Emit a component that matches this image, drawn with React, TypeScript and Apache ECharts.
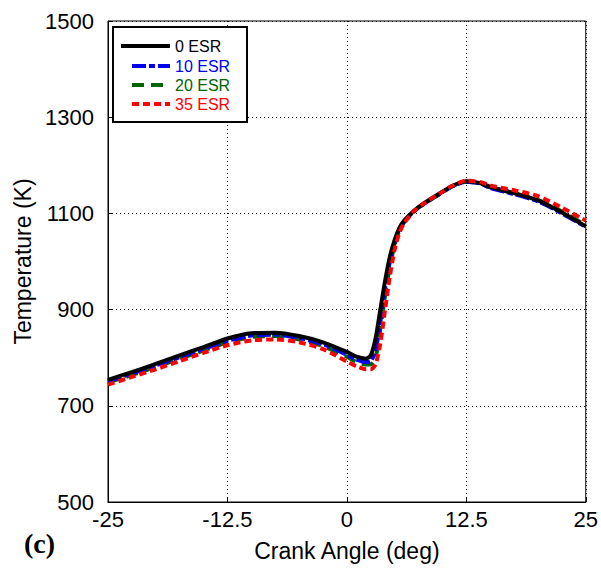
import React, { useEffect, useRef } from "react";
import * as echarts from "echarts";

const crankAngle = [-25, -22.5, -20, -17.5, -15, -12.5, -10, -7.5, -5, -2.5, 0, 1, 2, 2.5, 3, 3.5, 4, 4.5, 5, 5.5, 6, 7, 8, 10, 11, 12.5, 14, 15, 17.5, 20, 22.5, 25];
const esr0 = [754, 770, 787, 805, 822, 840, 851, 852, 845, 832, 812, 802, 798, 805, 840, 900, 960, 1010, 1045, 1070, 1085, 1105, 1120, 1145, 1157, 1167, 1163, 1155, 1142, 1127, 1102, 1073];
const esr10 = [751, 767, 784, 801, 818, 835, 846, 848, 841, 828, 806, 796, 791, 793, 815, 875, 945, 1000, 1040, 1068, 1083, 1104, 1119, 1144, 1156, 1166, 1162, 1153, 1140, 1125, 1100, 1072];
const esr20 = [749, 764, 781, 798, 815, 832, 843, 845, 838, 824, 802, 791, 786, 786, 800, 860, 930, 990, 1035, 1065, 1082, 1104, 1119, 1144, 1156, 1166, 1162, 1154, 1142, 1128, 1104, 1075];
const esr35 = [744, 760, 776, 793, 810, 826, 836, 838, 832, 818, 792, 782, 776, 776, 786, 830, 900, 970, 1025, 1060, 1080, 1104, 1120, 1145, 1157, 1168, 1165, 1158, 1148, 1136, 1112, 1085];
const seriesNames = ["0 ESR", "10 ESR", "20 ESR", "35 ESR"];
const yTicks = [500, 700, 900, 1100, 1300, 1500];
const xTicks = [-25, -12.5, 0, 12.5, 25];

const colors = ["#000000", "#0000ee", "#006400", "#ff0000"];
const dashes: (number[] | null)[] = [null, [14, 3, 6, 3], [12, 7], [7, 4]];
const widths = [4, 4, 4, 4];

export default function App() {
  const ref = useRef<HTMLDivElement>(null);
  useEffect(() => {
    if (!ref.current) return;
    const chart = echarts.init(ref.current, undefined, { renderer: "svg" });
    const font = "'Liberation Sans', Arial, sans-serif";
    const allData = [esr0, esr10, esr20, esr35];
    const series = allData.map((vals, i) => ({
      name: seriesNames[i],
      type: "line",
      data: crankAngle.map((x, j) => [x, vals[j]]),
      showSymbol: false,
      smooth: 0.25,
      z: i === 3 ? 14 : 10 - i,
      lineStyle: {
        color: colors[i],
        width: widths[i],
        type: dashes[i] ? dashes[i] : "solid",
      },
    }));

    const legendX0 = 113;
    const legendY0 = 27;
    const rowY = [46, 66, 85, 104];
    const graphicEls: any[] = [
      {
        type: "rect",
        shape: { x: legendX0, y: legendY0, width: 134, height: 95 },
        style: { fill: "#fff", stroke: "#000", lineWidth: 2 },
        z: 100,
      },
    ];
    rowY.forEach((y, i) => {
      graphicEls.push({
        type: "line",
        shape: { x1: i === 0 ? 121 : 132, y1: y, x2: 170, y2: y },
        style: {
          stroke: colors[i],
          lineWidth: 4,
          lineDash: dashes[i] ? dashes[i] : null,
        },
        z: 101,
      });
      graphicEls.push({
        type: "text",
        x: 175,
        y: y,
        style: {
          text: seriesNames[i],
          fill: colors[i],
          font: `16px ${font}`,
          verticalAlign: "middle",
          align: "left",
        },
        z: 101,
      });
    });
    graphicEls.push({
      type: "text",
      x: 24,
      y: 543,
      style: {
        text: "(c)",
        fill: "#000",
        font: `bold 28px 'Liberation Serif', 'Times New Roman', serif`,
        verticalAlign: "middle",
        align: "left",
      },
    });

    chart.setOption({
      animation: false,
      grid: {
        left: 108,
        right: 13,
        top: 21,
        bottom: 72,
        show: true,
        borderColor: "#000",
        borderWidth: 1,
      },
      xAxis: {
        type: "value",
        min: -25,
        max: 25,
        interval: 12.5,
        name: "Crank Angle (deg)",
        nameLocation: "middle",
        nameGap: 37,
        nameTextStyle: { fontFamily: font, fontSize: 23, color: "#000" },
        axisLine: { show: true, onZero: false, lineStyle: { color: "#000" } },
        axisTick: { show: true, inside: true, length: 5, lineStyle: { color: "#000" } },
        axisLabel: {
          fontFamily: font,
          fontSize: 22,
          color: "#000",
          margin: 6,
          formatter: (v: number) => (xTicks.includes(v) ? String(v) : ""),
        },
        splitLine: { show: true, lineStyle: { color: "#000", type: [1, 3], width: 1 } },
      },
      yAxis: {
        type: "value",
        min: 500,
        max: 1500,
        interval: 200,
        name: "Temperature (K)",
        nameLocation: "middle",
        nameGap: 72,
        nameTextStyle: { fontFamily: font, fontSize: 23, color: "#000" },
        axisLine: { show: true, onZero: false, lineStyle: { color: "#000" } },
        axisTick: { show: true, inside: true, length: 5, lineStyle: { color: "#000" } },
        axisLabel: {
          fontFamily: font,
          fontSize: 22,
          color: "#000",
          margin: 14,
          formatter: (v: number) => (yTicks.includes(v) ? String(v) : ""),
        },
        splitLine: { show: true, lineStyle: { color: "#000", type: [1, 3], width: 1 } },
      },
      series,
      graphic: graphicEls,
    });
    return () => chart.dispose();
  }, []);
  return <div ref={ref} style={{ width: 601, height: 574, position: "absolute", left: 0, top: 0 }} />;
}
